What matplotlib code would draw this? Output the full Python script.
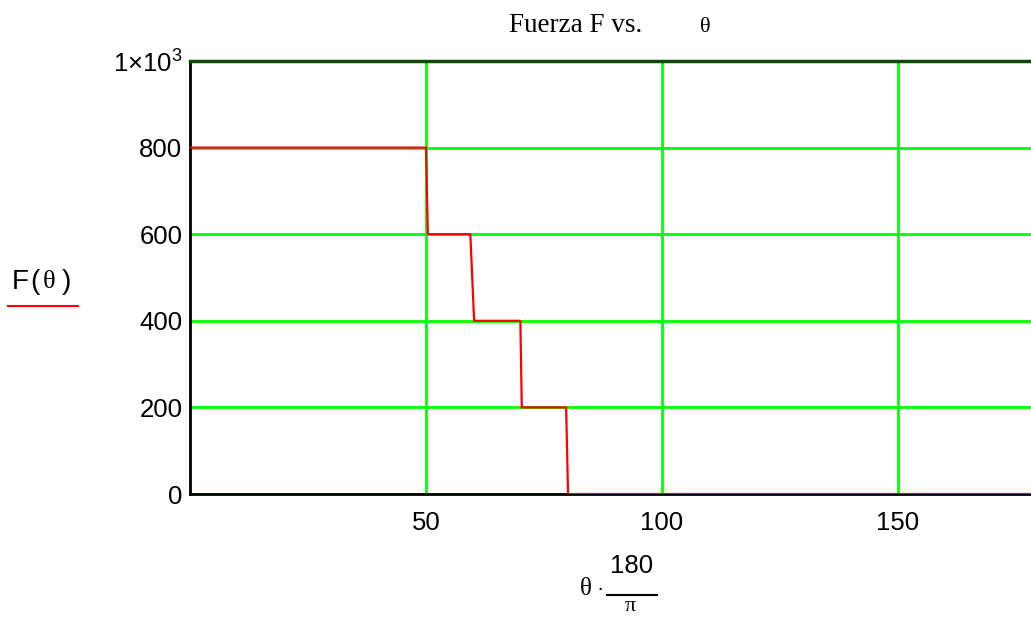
import matplotlib
matplotlib.use("Agg")
import matplotlib.pyplot as plt
from matplotlib.lines import Line2D

plt.rcParams['font.family'] = ['Liberation Sans', 'DejaVu Sans']
plt.rcParams['mathtext.fontset'] = 'custom'
plt.rcParams['mathtext.rm'] = 'Liberation Sans'

# step function F(theta), theta in degrees (breakpoints)
theta_deg = [0, 50, 50.4, 59.4, 60.2, 70.0, 70.3, 79.7, 80.1, 178.2]
force = [800, 800, 600, 600, 400, 400, 200, 200, 0, 0]

xticks = [50, 100, 150]
yticks = [0, 200, 400, 600, 800, 1000]
ytick_labels = ['0', '200', '400', '600', '800', r'$\mathregular{1{\times}10^3}$']

W, H = 1031, 617
fig = plt.figure(figsize=(W / 100, H / 100), dpi=100)
ax = fig.add_axes([190 / W, 1 - 494 / H, 1 - 190 / W, (494 - 61) / H])

ax.plot(theta_deg, force, color='#ff0000', lw=1.6, zorder=3)

ax.set_xlim(0, 178.2)
ax.set_ylim(0, 1000)
ax.set_xticks(xticks)
ax.set_yticks(yticks)
ax.set_yticklabels(ytick_labels)
ax.grid(True, color='#00ff00', lw=2)
ax.tick_params(length=0, labelsize=18.5)
ax.tick_params(axis='x', pad=12)
ax.tick_params(axis='y', pad=5.5)

ax.spines['right'].set_visible(False)
ax.spines['top'].set_color('#0b4a0b')
ax.spines['top'].set_linewidth(2.5)
for s in ('left', 'bottom'):
    ax.spines[s].set_color('black')
    ax.spines[s].set_linewidth(2)


def px(x, y):
    return x / W, 1 - y / H


# title
fig.text(*px(576, 32), 'Fuerza F vs.', family='Liberation Serif',
         fontsize=19.5, ha='center', va='baseline')
fig.text(*px(705, 32), 'θ', family='Liberation Serif',
         fontsize=16, ha='center', va='baseline')

# y label with red legend line
fig.text(*px(20, 289), 'F', fontsize=20, ha='center', va='baseline')
fig.text(*px(35, 289), '(', fontsize=20, ha='center', va='baseline')
fig.text(*px(49, 288), 'θ', family='Liberation Serif', fontsize=19,
         ha='center', va='baseline')
fig.text(*px(66, 289), ')', fontsize=20, ha='center', va='baseline')
fig.add_artist(Line2D([8 / W, 78 / W], [1 - 306 / H, 1 - 306 / H],
                      color='#ff0000', lw=1.5, transform=fig.transFigure))

# x label: theta * 180 / pi
fig.text(*px(586, 595), 'θ', family='Liberation Serif',
         fontsize=18, ha='center', va='baseline')
fig.text(*px(600, 595), '·', fontsize=16, ha='center', va='baseline')
fig.text(*px(632, 573), '180', fontsize=18.5, ha='center', va='baseline')
fig.add_artist(Line2D([607 / W, 657 / W], [1 - 595 / H, 1 - 595 / H],
                      color='black', lw=1.5, transform=fig.transFigure))
fig.text(*px(630, 611), 'π', family='Liberation Serif',
         fontsize=16, ha='center', va='baseline')

fig.savefig('out.png', dpi=100)
